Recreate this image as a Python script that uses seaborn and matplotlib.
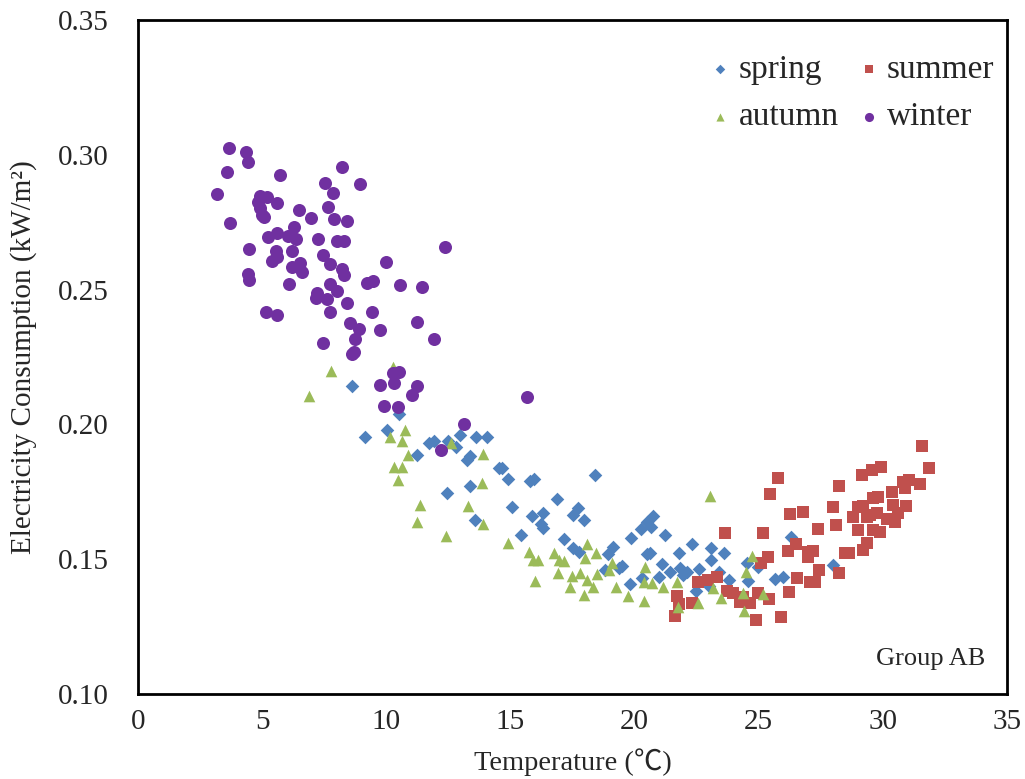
import pandas as pd
import matplotlib
matplotlib.use("Agg")
import matplotlib.pyplot as plt
import seaborn as sns

# Data
spring_t = [8.62, 10.51, 10.03, 9.14, 11.72, 11.92, 12.48, 12.81, 12.97, 13.61, 14.06, 11.24, 13.25, 13.37,
            14.54, 13.37, 12.44, 13.57, 14.66, 14.90, 15.79, 15.95, 18.41, 15.06, 15.87, 16.31, 16.87, 17.52,
            17.72, 17.96, 15.42, 16.23, 16.31, 17.16, 17.52, 17.76, 19.13, 18.93, 19.85, 20.26, 20.50, 20.74,
            20.66, 21.22, 21.79, 22.31, 23.08, 23.60, 20.50, 20.62, 21.10, 19.49, 19.37, 18.81, 19.81, 20.30,
            20.98, 21.43, 21.83, 22.11, 21.95, 22.59, 23.08, 23.40, 23.80, 22.47, 23.00, 24.53, 24.97, 26.30,
            25.65, 25.98, 24.57, 27.99]
spring_e = [0.2142, 0.2039, 0.1979, 0.1953, 0.1931, 0.1938, 0.1938, 0.1916, 0.1961, 0.1953, 0.1953, 0.1887,
            0.1868, 0.1883, 0.1838, 0.1772, 0.1746, 0.1645, 0.1838, 0.1797, 0.1790, 0.1797, 0.1812, 0.1694,
            0.1660, 0.1671, 0.1723, 0.1664, 0.1690, 0.1645, 0.1590, 0.1631, 0.1616, 0.1575, 0.1542, 0.1527,
            0.1545, 0.1519, 0.1579, 0.1612, 0.1638, 0.1660, 0.1619, 0.1590, 0.1523, 0.1556, 0.1542, 0.1523,
            0.1519, 0.1523, 0.1482, 0.1475, 0.1467, 0.1460, 0.1408, 0.1430, 0.1434, 0.1453, 0.1467, 0.1453,
            0.1441, 0.1464, 0.1497, 0.1453, 0.1423, 0.1382, 0.1401, 0.1486, 0.1471, 0.1582, 0.1427, 0.1434,
            0.1419, 0.1478]

summer_t = [31.57, 31.86, 29.92, 29.56, 29.16, 25.78, 28.23, 30.81, 31.05, 31.49, 30.37, 30.89, 25.45, 29.60,
            29.80, 27.99, 29.20, 29.00, 30.41, 30.93, 26.26, 26.78, 28.80, 29.48, 29.76, 30.61, 28.11, 27.39,
            30.49, 30.17, 29.00, 29.88, 29.60, 29.36, 23.64, 25.17, 29.36, 26.50, 29.20, 26.18, 26.98, 27.18,
            26.98, 28.47, 28.63, 25.37, 25.09, 27.43, 28.23, 23.32, 22.96, 22.55, 26.54, 27.27, 27.06, 23.72,
            23.96, 24.97, 25.41, 24.37, 26.22, 21.71, 21.79, 22.31, 24.65, 24.24, 21.63, 24.89, 25.90]
summer_e = [0.1920, 0.1838, 0.1842, 0.1831, 0.1812, 0.1801, 0.1772, 0.1786, 0.1794, 0.1779, 0.1749, 0.1764,
            0.1742, 0.1727, 0.1731, 0.1694, 0.1697, 0.1694, 0.1701, 0.1697, 0.1668, 0.1675, 0.1657, 0.1664,
            0.1671, 0.1671, 0.1627, 0.1612, 0.1638, 0.1649, 0.1608, 0.1601, 0.1608, 0.1657, 0.1597, 0.1597,
            0.1560, 0.1556, 0.1534, 0.1530, 0.1527, 0.1530, 0.1508, 0.1523, 0.1523, 0.1508, 0.1486, 0.1460,
            0.1449, 0.1434, 0.1423, 0.1415, 0.1430, 0.1415, 0.1415, 0.1382, 0.1375, 0.1375, 0.1352, 0.1360,
            0.1378, 0.1364, 0.1334, 0.1338, 0.1338, 0.1341, 0.1289, 0.1274, 0.1286]

autumn_t = [7.77, 6.89, 10.27, 10.75, 10.15, 10.63, 12.61, 10.87, 13.89, 10.31, 10.63, 10.47, 13.85, 11.36,
            13.29, 11.24, 13.89, 12.40, 14.90, 15.75, 15.91, 16.11, 16.75, 16.96, 17.16, 18.08, 18.45, 18.00,
            19.09, 18.97, 20.42, 16.92, 17.48, 17.80, 18.08, 18.49, 15.99, 17.40, 18.32, 17.96, 19.25, 19.73,
            20.38, 20.38, 20.70, 21.14, 21.71, 23.04, 23.16, 23.48, 22.55, 21.75, 24.49, 24.73, 24.37, 25.17,
            24.41]
autumn_e = [0.2198, 0.2105, 0.2213, 0.1979, 0.1953, 0.1938, 0.1931, 0.1887, 0.1890, 0.1842, 0.1842, 0.1794,
            0.1783, 0.1701, 0.1697, 0.1638, 0.1631, 0.1586, 0.1560, 0.1527, 0.1497, 0.1497, 0.1523, 0.1497,
            0.1493, 0.1556, 0.1523, 0.1504, 0.1486, 0.1460, 0.1471, 0.1449, 0.1438, 0.1449, 0.1423, 0.1445,
            0.1419, 0.1397, 0.1397, 0.1367, 0.1397, 0.1364, 0.1345, 0.1415, 0.1412, 0.1397, 0.1415, 0.1734,
            0.1393, 0.1356, 0.1338, 0.1323, 0.1453, 0.1512, 0.1375, 0.1371, 0.1308]

winter_t = [3.66, 4.35, 4.43, 3.58, 5.72, 8.22, 7.53, 8.94, 7.85, 3.18, 4.91, 5.20, 4.83, 5.60, 4.91, 4.99,
            5.07, 6.48, 7.65, 6.97, 7.89, 8.42, 3.71, 6.28, 5.24, 5.60, 6.04, 6.36, 7.25, 8.01, 8.30, 12.36,
            4.47, 5.56, 6.20, 7.45, 5.40, 5.60, 7.73, 6.20, 6.52, 6.60, 8.22, 8.30, 9.99, 4.43, 4.47, 6.08,
            7.73, 8.01, 9.22, 9.46, 10.55, 11.44, 7.21, 7.17, 7.61, 8.42, 5.16, 5.60, 7.73, 9.42, 8.54, 11.24,
            8.90, 9.75, 7.45, 8.74, 11.92, 8.62, 8.70, 10.27, 10.51, 10.31, 9.75, 11.24, 11.03, 9.91, 10.47,
            13.13, 12.20, 15.67]
winter_e = [0.3025, 0.3010, 0.2973, 0.2936, 0.2925, 0.2955, 0.2895, 0.2892, 0.2858, 0.2855, 0.2847, 0.2843,
            0.2825, 0.2821, 0.2803, 0.2777, 0.2769, 0.2795, 0.2806, 0.2766, 0.2762, 0.2754, 0.2747, 0.2732,
            0.2695, 0.2710, 0.2699, 0.2688, 0.2688, 0.2680, 0.2680, 0.2658, 0.2651, 0.2643, 0.2643, 0.2628,
            0.2606, 0.2621, 0.2595, 0.2584, 0.2599, 0.2565, 0.2576, 0.2554, 0.2602, 0.2558, 0.2536, 0.2521,
            0.2521, 0.2495, 0.2524, 0.2532, 0.2517, 0.2510, 0.2487, 0.2469, 0.2465, 0.2450, 0.2417, 0.2406,
            0.2417, 0.2417, 0.2376, 0.2380, 0.2354, 0.2350, 0.2302, 0.2317, 0.2317, 0.2261, 0.2269, 0.2191,
            0.2194, 0.2154, 0.2146, 0.2142, 0.2109, 0.2068, 0.2065, 0.2000, 0.1905, 0.2102]

seasons = ["spring", "summer", "autumn", "winter"]
colors = {"spring": "#4F81BD", "summer": "#C0504D", "autumn": "#9BBB59", "winter": "#7030A0"}
markers = {"spring": "D", "summer": "s", "autumn": "^", "winter": "o"}
sizes = {"spring": 48, "summer": 80, "autumn": 70, "winter": 88}

frames = []
for name, t, e in [("spring", spring_t, spring_e), ("summer", summer_t, summer_e),
                   ("autumn", autumn_t, autumn_e), ("winter", winter_t, winter_e)]:
    frames.append(pd.DataFrame({"Temperature": t, "Electricity": e, "Season": name}))
df = pd.concat(frames, ignore_index=True)

sns.set_style("white")
plt.rcParams["font.family"] = ["Liberation Serif", "DejaVu Serif"]

fig = plt.figure(figsize=(10.25, 7.79), dpi=100)
ax = fig.add_axes([0.1346, 0.1091, 0.8478, 0.8652])

for name in seasons:
    sub = df[df["Season"] == name]
    sns.scatterplot(data=sub, x="Temperature", y="Electricity", ax=ax, color=colors[name],
                    marker=markers[name], s=sizes[name], linewidth=0, label=name, zorder=3)

ax.set_xlim(0, 35)
ax.set_ylim(0.10, 0.35)
ax.set_xticks(range(0, 36, 5))
ax.set_yticks([0.10, 0.15, 0.20, 0.25, 0.30, 0.35])
ax.set_yticklabels(["0.10", "0.15", "0.20", "0.25", "0.30", "0.35"])
ax.tick_params(axis="x", direction="in", length=7, width=1, labelsize=21, pad=11, color="black")
ax.tick_params(axis="y", length=0, labelsize=21, pad=21)
for sp in ax.spines.values():
    sp.set_color("black")
    sp.set_linewidth(2)

# the degree-Celsius sign is missing from Liberation Serif, fall back to a CJK face
ax.set_xlabel("Temperature (℃)", fontsize=20.5, labelpad=9,
              family=["Liberation Serif", "Noto Sans CJK SC", "DejaVu Sans"])
ax.set_ylabel("Electricity Consumption (kW/m²)", fontsize=21, labelpad=15)

ax.text(0.975, 0.052, "Group AB", transform=ax.transAxes, ha="right", va="center", fontsize=19)

handles, labels = ax.get_legend_handles_labels()
order = [labels.index(n) for n in ["spring", "autumn", "summer", "winter"]]
ax.legend([handles[i] for i in order], [labels[i] for i in order], ncol=2, loc="upper right",
          frameon=False, fontsize=24, markerscale=0.7, handletextpad=0.05, columnspacing=0.4,
          handlelength=1.0, labelspacing=0.5, bbox_to_anchor=(1.02, 0.993))

fig.savefig("out.png", dpi=100)
